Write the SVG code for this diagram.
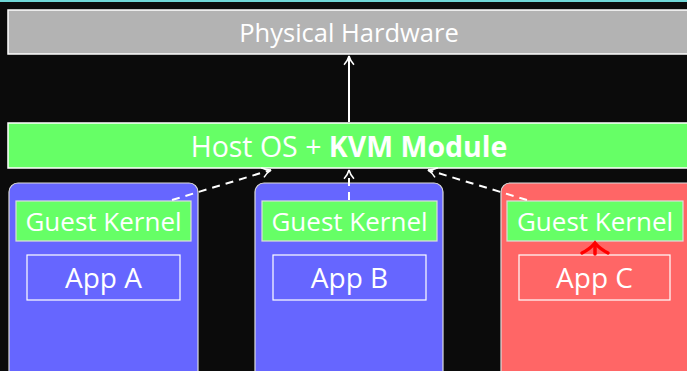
<svg xmlns="http://www.w3.org/2000/svg" width="687" height="371" viewBox="0 0 687 371">
<defs>
<style>
text{font-family:"Open Sans","Noto Sans","DejaVu Sans",sans-serif;fill:#fff;text-anchor:middle;dominant-baseline:central}
.big{font-size:25.5px}
.host{font-size:28.5px}
.gk{font-size:26px}
.app{font-size:28px}
.conn{stroke:#fff;stroke-width:2;fill:none}
.dash{stroke-dasharray:8 6}
.inner{fill:none;stroke:#fff;stroke-width:1.2}
</style>
<marker id="ah" viewBox="0 0 10 10" refX="9" refY="5" markerWidth="11" markerHeight="12" orient="auto" markerUnits="userSpaceOnUse">
<path d="M1,0.5 Q5,4 9,5 Q5,6 1,9.5" fill="none" stroke="#fff" stroke-width="1.4"/>
</marker>
</defs>
<rect x="0" y="0" width="687" height="371" fill="#0b0b0b"/>
<rect x="0" y="0" width="687" height="2" fill="#6fd6d6"/>
<g id="hardware">
<rect x="8" y="10" width="690" height="44" fill="#b3b3b3" stroke="#fff" stroke-width="1.5"/>
<text x="349" y="32" class="big">Physical Hardware</text>
</g>
<g id="hostos">
<rect x="8" y="123" width="690" height="45" fill="#66ff66" stroke="#fff" stroke-width="1.5"/>
<text x="349" y="146" class="host">Host OS + <tspan font-weight="bold">KVM Module</tspan></text>
</g>
<g id="vmA">
<rect x="9" y="183" width="189" height="200" rx="9" fill="#6666ff" stroke="#ddd" stroke-width="1.2"/>
<rect x="16" y="201" width="175" height="40" fill="#66ff66" stroke="#ddd" stroke-width="1.2"/>
<text x="103.5" y="221" class="gk">Guest Kernel</text>
<rect x="27" y="255" width="153" height="45" class="inner"/>
<text x="103.5" y="277" class="app">App A</text>
</g>
<g id="vmB">
<rect x="255" y="183" width="188" height="200" rx="9" fill="#6666ff" stroke="#ddd" stroke-width="1.2"/>
<rect x="262" y="201" width="175" height="40" fill="#66ff66" stroke="#ddd" stroke-width="1.2"/>
<text x="349.5" y="221" class="gk">Guest Kernel</text>
<rect x="273" y="255" width="153" height="45" class="inner"/>
<text x="349.5" y="277" class="app">App B</text>
</g>
<g id="vmC">
<rect x="501" y="183" width="200" height="200" rx="9" fill="#ff6666" stroke="#ddd" stroke-width="1.2"/>
<rect x="507" y="201" width="176" height="40" fill="#66ff66" stroke="#ddd" stroke-width="1.2"/>
<text x="595" y="221" class="gk">Guest Kernel</text>
<rect x="519" y="255" width="151" height="45" class="inner"/>
<text x="594.5" y="277" class="app">App C</text>
</g>
<g id="connectors">
<line x1="349" y1="122" x2="349" y2="56" class="conn" marker-end="url(#ah)"/>
<line x1="172" y1="200" x2="271" y2="170" class="conn dash" marker-end="url(#ah)"/>
<line x1="349" y1="200" x2="349" y2="170" class="conn dash" marker-end="url(#ah)"/>
<line x1="527" y1="200" x2="428" y2="170" class="conn dash" marker-end="url(#ah)"/>
<g stroke="#f00" stroke-width="3.5" fill="none" stroke-linecap="round">
<line x1="595" y1="254" x2="595" y2="244"/>
<path d="M582,253 Q590,249 595,243 Q600,249 608,253"/>
</g>
</g>
</svg>
